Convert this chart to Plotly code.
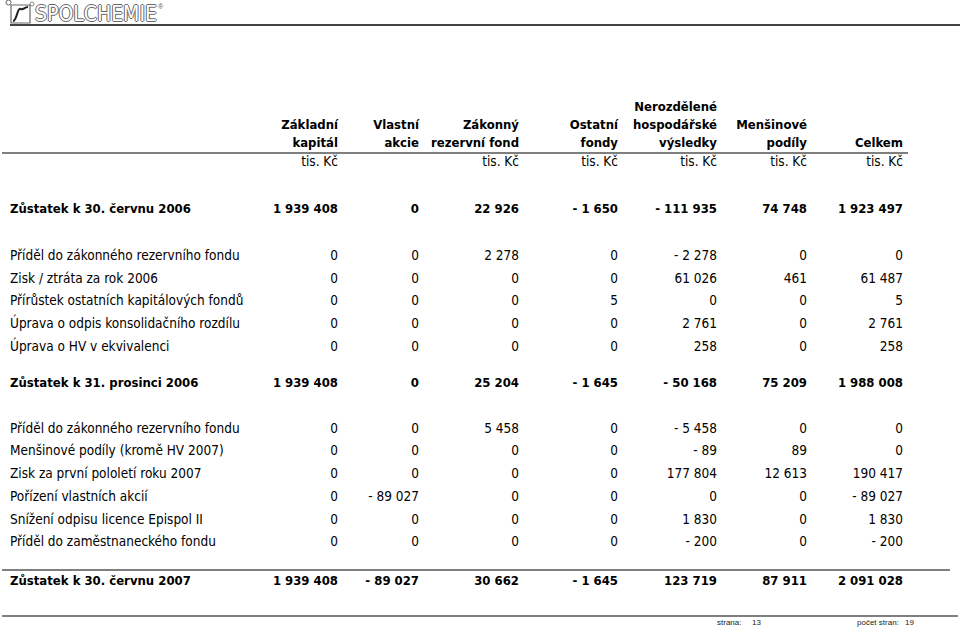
import plotly.graph_objects as go

# ---------------- data ----------------
columns = ["Základní<br>kapitál", "Vlastní<br>akcie", "Zákonný<br>rezervní fond", "Ostatní<br>fondy",
           "Nerozdělené<br>hospodářské<br>výsledky", "Menšinové<br>podíly", "Celkem"]
units = ["tis. Kč", "", "tis. Kč", "tis. Kč", "tis. Kč", "tis. Kč", "tis. Kč"]

row_labels = [
    "Zůstatek k 30. červnu 2006",
    "Příděl do zákonného rezervního fondu",
    "Zisk / ztráta za rok 2006",
    "Přírůstek ostatních kapitálových fondů",
    "Úprava o odpis konsolidačního rozdílu",
    "Úprava o HV v ekvivalenci",
    "Zůstatek k 31. prosinci 2006",
    "Příděl do zákonného rezervního fondu",
    "Menšinové podíly (kromě HV 2007)",
    "Zisk za první pololetí roku 2007",
    "Pořízení vlastních akcií",
    "Snížení odpisu licence Epispol II",
    "Příděl do zaměstnaneckého fondu",
    "Zůstatek k 30. červnu 2007",
]
row_is_total = [True, False, False, False, False, False, True,
                False, False, False, False, False, False, True]

zakladni_kapital = [1939408, 0, 0, 0, 0, 0, 1939408, 0, 0, 0, 0, 0, 0, 1939408]
vlastni_akcie = [0, 0, 0, 0, 0, 0, 0, 0, 0, 0, -89027, 0, 0, -89027]
zakonny_fond = [22926, 2278, 0, 0, 0, 0, 25204, 5458, 0, 0, 0, 0, 0, 30662]
ostatni_fondy = [-1650, 0, 0, 5, 0, 0, -1645, 0, 0, 0, 0, 0, 0, -1645]
nerozdelene_hv = [-111935, -2278, 61026, 0, 2761, 258, -50168, -5458, -89, 177804, 0, 1830, -200, 123719]
mensinove_podily = [74748, 0, 461, 0, 0, 0, 75209, 0, 89, 12613, 0, 0, 0, 87911]
celkem = [1923497, 0, 61487, 5, 2761, 258, 1988008, 0, 0, 190417, -89027, 1830, -200, 2091028]
series = [zakladni_kapital, vlastni_akcie, zakonny_fond, ostatni_fondy,
          nerozdelene_hv, mensinove_podily, celkem]

footer_page = "13"
footer_total = "19"

# ---------------- layout constants (pixels) ----------------
W, H = 960, 630
col_right = [338, 419, 519, 618, 717, 807, 903]
row_y = [210, 257, 280, 302, 325, 348, 384, 430, 452, 475, 498, 521, 543, 582]
label_x = 10
header_bottom_y = 144
header_line_h = 18
units_y = 163
FONT = "DejaVu Sans Condensed, Liberation Sans Narrow, sans-serif"
FS = 13.5
FS_B = 13


def fmt(v):
    s = f"{abs(v):,}".replace(",", " ")
    return ("- " + s) if v < 0 else s


def tfont(bold):
    return dict(family=FONT, size=FS_B if bold else FS, color="black",
                weight="bold" if bold else "normal")


fig = go.Figure()

# row labels
for bold in (False, True):
    idx = [i for i, t in enumerate(row_is_total) if t == bold]
    fig.add_trace(go.Scatter(
        x=[label_x] * len(idx), y=[row_y[i] for i in idx],
        text=[row_labels[i] for i in idx], mode="text", textposition="middle right",
        textfont=tfont(bold), hoverinfo="skip", showlegend=False, cliponaxis=False))

# values
for c, vals in enumerate(series):
    for bold in (False, True):
        idx = [i for i, t in enumerate(row_is_total) if t == bold]
        fig.add_trace(go.Scatter(
            x=[col_right[c]] * len(idx), y=[row_y[i] for i in idx],
            text=[fmt(vals[i]) for i in idx], mode="text", textposition="middle left",
            textfont=tfont(bold), hoverinfo="skip", showlegend=False, cliponaxis=False))

# headers (each line placed separately, bottom aligned)
hx, hy, ht = [], [], []
for c, h in enumerate(columns):
    lines = h.split("<br>")
    n = len(lines)
    for k, ln in enumerate(lines):
        hx.append(col_right[c]); hy.append(header_bottom_y - (n - 1 - k) * header_line_h); ht.append(ln)
fig.add_trace(go.Scatter(x=hx, y=hy, text=ht, mode="text", textposition="middle left",
                         textfont=tfont(True), hoverinfo="skip", showlegend=False, cliponaxis=False))

ux = [col_right[c] for c, u in enumerate(units) if u]
ut = [u for u in units if u]
fig.add_trace(go.Scatter(x=ux, y=[units_y] * len(ux), text=ut, mode="text", textposition="middle left",
                         textfont=tfont(False), hoverinfo="skip", showlegend=False, cliponaxis=False))

# footer
fig.add_trace(go.Scatter(x=[717, 752, 857, 905], y=[623] * 4,
                         text=["strana:", footer_page, "počet stran:", footer_total],
                         mode="text", textposition="middle right",
                         textfont=dict(family="Liberation Sans, Arial, sans-serif", size=8, color="#222"),
                         hoverinfo="skip", showlegend=False, cliponaxis=False))

# logo text
fig.add_annotation(x=34, y=14, xref="x", yref="y", text="SPOLCHEMIE", showarrow=False,
                   xanchor="left", yanchor="middle", borderpad=0,
                   font=dict(family="DejaVu Sans Condensed, sans-serif", size=21,
                             color="white",
                             shadow="1px 0 0 #666, -1px 0 0 #666, 0 1px 0 #666, 0 -1px 0 #666"))
fig.add_annotation(x=157, y=6, xref="x", yref="y", text="®", showarrow=False,
                   xanchor="left", yanchor="middle", borderpad=0,
                   font=dict(family="Liberation Sans", size=7, color="#555"))

shapes = [
    dict(type="rect", x0=11, x1=30, y0=5, y1=23, line=dict(color="#666", width=1.2)),
    dict(type="path", path="M 13 21 C 17 21, 17 7, 21 9 C 24 10, 24 7, 28 7", line=dict(color="#222", width=2)),
    dict(type="circle", x0=6, x1=11, y0=0, y1=5, line=dict(color="#666", width=1)),
    dict(type="circle", x0=30, x1=34, y0=2, y1=6, line=dict(color="#666", width=0.8)),
    dict(type="line", x0=10, x1=960, y0=25, y1=25, line=dict(color="#444", width=2)),
    dict(type="line", x0=2, x1=908, y0=153, y1=153, line=dict(color="#555", width=1.5)),
    dict(type="line", x0=2, x1=950, y0=570, y1=570, line=dict(color="#555", width=1.5)),
    dict(type="line", x0=2, x1=958, y0=616, y1=616, line=dict(color="#555", width=1.5)),
]
for s in shapes:
    s.update(xref="x", yref="y", layer="below")

fig.update_layout(
    width=W, height=H, margin=dict(l=0, r=0, t=0, b=0),
    paper_bgcolor="white", plot_bgcolor="white", shapes=shapes,
    xaxis=dict(range=[0, W], visible=False, fixedrange=True),
    yaxis=dict(range=[H, 0], visible=False, fixedrange=True),
    showlegend=False,
)

fig.write_html("out.html", config={"displayModeBar": False},
               post_script="document.body.style.margin='0';")
